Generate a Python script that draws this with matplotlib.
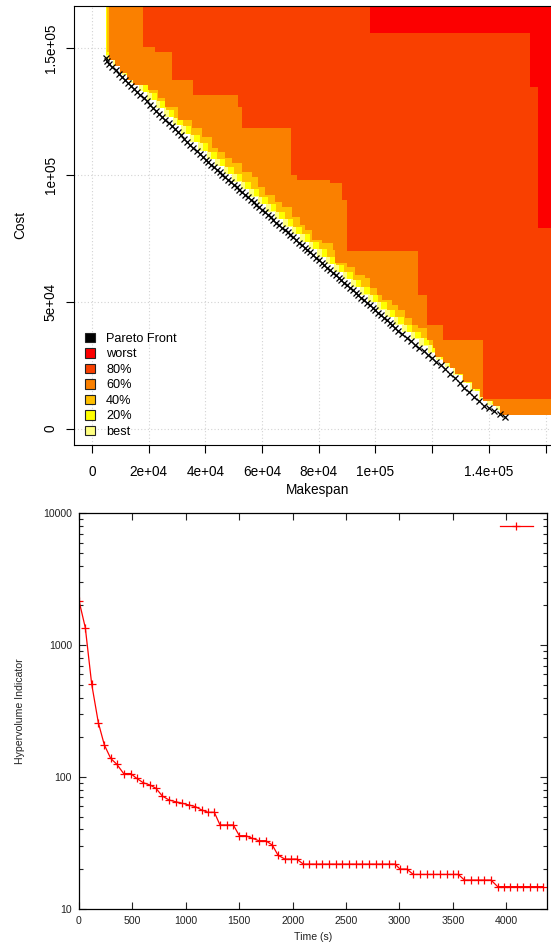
import matplotlib
matplotlib.use("Agg")
import matplotlib.pyplot as plt
from matplotlib.patches import Patch
from matplotlib.lines import Line2D
from matplotlib.ticker import FixedLocator, NullFormatter, LogLocator

plt.rcParams['font.family'] = ['Liberation Sans', 'DejaVu Sans']

# ---- top chart: Pareto front (makespan, cost) ----
front_makespan = [
    4800, 5300, 6100, 7200, 8300, 9400, 10500, 11600, 12700, 13800, 14900, 16000,
    17100, 18200, 19300, 20400, 21500, 22600, 23700, 24800, 25900, 27000, 28100,
    29200, 30300, 31400, 32500, 33600, 34700, 35800, 36900, 38000, 39100, 40200,
    41000, 42000, 43000, 44000, 45000, 46000, 47000, 48000, 49000, 50000, 51000,
    52000, 53000, 54000, 55000, 56000, 57000, 58000, 59000, 60000, 61000, 62000,
    63000, 64000, 65000, 66000, 67000, 68000, 69000, 70000, 71000, 72000, 73000,
    74000, 75000, 76000, 77000,
    78000, 79000, 80000, 81000, 82000, 83000, 84000, 85000, 86000, 87000, 88000,
    89000, 90000, 91000, 92000, 93000, 94000, 95000, 96000, 97000, 98000, 99000,
    100000, 101000, 102000, 103000, 104000, 105000, 106000, 107000, 108000,
    109500, 111000, 112500, 114000, 115500, 117000, 118500, 120000, 121500, 123000,
    124600, 126300, 128000, 129700, 131400, 133100, 134800, 136500,
    138200, 140100, 142000, 143900, 145700]
front_cost = [
    146000, 145000, 143700, 142500, 141300, 140000, 138800, 137600, 136400, 135200,
    133900, 132700, 131500, 130300, 129100, 127800, 126600, 125400, 124200, 123000,
    121800, 120500, 119300, 118100, 116900, 115700, 114400, 113200, 112000, 110800,
    109600, 108400, 107100, 105900,
    105000, 104100, 103100, 102100, 101100, 100100, 99100, 98100, 97100, 96100,
    95200, 94200, 93200, 92200, 91200, 90200, 89200, 88200, 87300, 86300, 85300,
    84300, 83300, 82300, 81300, 80300, 79300, 78400, 77400, 76400, 75400, 74400,
    73400, 72400, 71400, 70500, 69500,
    68500, 67500, 66500, 65500, 64500, 63500, 62500, 61500, 60500, 59500, 58600,
    57600, 56600, 55600, 54600, 53600, 52600, 51600, 50600, 49600, 48600, 47600,
    46700, 45700, 44700, 43700, 42700, 41700, 40700, 39700, 38700,
    37300, 35900, 34600, 33200, 31900, 30500, 29100, 27800, 26400, 25000,
    23500, 21700, 19900, 18000, 16200, 14400, 12600, 10800,
    9100, 8000, 6800, 5700, 4600]

# ---- attainment surfaces (corner points of each staircase) ----
best_x = [4900, 7500, 10500, 13500, 16500, 19500, 22500, 25500, 28500, 31500, 34500,
          37500, 40500, 43500, 46500, 49500, 52500, 55500, 58500, 61500, 64500, 67500,
          70500, 73500, 76500, 79500, 82500, 85500, 88500, 91500, 94500, 97500, 100500,
          103500, 106500, 109500, 112500, 115500, 118500, 121500, 124500, 127500,
          130500, 133500, 136500, 139500, 142500, 146000]
best_y = [145800, 142900, 139600, 136300, 133000, 129600, 126300, 123000, 119700,
          116400, 113000, 109700, 106400, 103400, 100400, 97400, 94500, 91500, 88500,
          85600, 82600, 79700, 76700, 73700, 70800, 67800, 64800, 61800, 58900, 55900,
          52900, 49900, 47000, 44000, 41000, 38100, 35400, 32700, 29900, 27200, 24400,
          21200, 18000, 14800, 11600, 9200, 7300, 5400]

q20_x = [5000, 9000, 12000, 15000, 18000, 21000, 24000, 27000, 30000, 33000, 36000,
         39000, 42000, 45000, 48000, 51000, 54000, 57000, 60000, 63000, 66000, 69000,
         72000, 75000, 78000, 81000, 84000, 87000, 90000, 93000, 96000, 99000, 102000,
         105000, 108000, 111000, 114000, 117000, 120000, 123000, 126000, 129000,
         132000, 135000, 138000, 141000, 144000, 147000]
q20_y = [147300, 142900, 139600, 136200, 132900, 129600, 126300, 122900, 119600,
         116300, 113000, 109600, 106500, 103500, 100500, 97600, 94600, 91600, 88700,
         85700, 82700, 79800, 76800, 73800, 70900, 67900, 64900, 61900, 59000, 56000,
         53000, 50000, 47100, 44100, 41100, 38300, 35600, 32900, 30200, 27400, 24400,
         21200, 18000, 14800, 11700, 9900, 8000, 5400]

q40_x = [5400, 8000, 11000, 14000, 17000, 20000, 23000, 26000, 29000, 32000, 35000,
         38000, 41000, 44000, 47000, 50000, 53000, 56000, 59000, 62000, 65000, 68000,
         71000, 74000, 77000, 80000, 83000, 86000, 89000, 92000, 95000, 98000, 101000,
         104000, 107000, 110000, 113000, 116000, 119000, 122000, 125000, 128000,
         131000, 134000, 137000, 140000, 143000, 147000]
q40_y = [148700, 145800, 142500, 139100, 135800, 132500, 129200, 125800, 122500,
         119200, 115900, 112600, 109200, 106300, 103300, 100300, 97400, 94400, 91500,
         88500, 85500, 82600, 79600, 76600, 73700, 70700, 67700, 64700, 61800, 58800,
         55800, 52800, 49900, 46900, 43900, 41000, 38300, 35600, 32900, 30200, 27200,
         24100, 20900, 17700, 14500, 12300, 10400, 5400]

q60_x = [6100, 8100, 9900, 12200, 14600, 19900, 23400, 25800, 30400, 35200, 38700,
         42200, 44600, 46900, 49300, 52800, 56300, 58700, 61000, 64600, 66900, 70400,
         73400, 75100, 77500, 81000, 85100, 85700, 89800, 92800, 96300, 98100, 100400,
         102200, 105700, 108000, 110400, 112800, 115100, 118100, 120400, 121000,
         123900, 126300, 128000, 131000, 133900, 136900, 138000, 141600, 143900]
q60_y = [145400, 143000, 140300, 137500, 135500, 133600, 130400, 127000, 121700,
         118500, 115100, 110600, 109200, 106600, 104700, 101300, 99400, 95400, 92200,
         89500, 87500, 83600, 80300, 78300, 74400, 73100, 70500, 65200, 63900, 60600,
         59300, 55400, 52700, 50800, 48800, 46800, 43500, 40900, 39600, 35000, 31700,
         28400, 25800, 23800, 21500, 18600, 15600, 12500, 11000, 8800, 5400]

q80_x = [18000, 22200, 28100, 35700, 51600, 52800, 70100, 72200, 84000, 88100, 90100,
         114900, 118100, 123900, 138000]
q80_y = [150500, 148700, 137500, 131600, 127000, 118700, 100000, 98100, 97000, 90200,
         70200, 52700, 40900, 35000, 11600]

worst_x = [98100, 154500, 157200]
worst_y = [156200, 134700, 79000]

surface_labels = ['best', '20%', '40%', '60%', '80%', 'worst']
surface_colors = ['#FFFF80', '#FFFF00', '#FFBF00', '#FA8000', '#F94000', '#FC0000']
surfaces = [(best_x, best_y), (q20_x, q20_y), (q40_x, q40_y),
            (q60_x, q60_y), (q80_x, q80_y), (worst_x, worst_y)]

# ---- bottom chart: hypervolume indicator over time ----
hv_time = [0, 59, 119, 181, 237, 297, 353, 418, 484, 540, 602, 665, 721, 780, 843,
           905, 967, 1030, 1089, 1149, 1208, 1267, 1320, 1383, 1445, 1501, 1561,
           1623, 1685, 1748, 1810, 1863, 1927, 1983, 2038,
           2100, 2157, 2219, 2279, 2341, 2404, 2466, 2528, 2591, 2653, 2716, 2778,
           2840, 2903, 2959, 3005, 3068,
           3130, 3193, 3255, 3318, 3380, 3443, 3505, 3552,
           3608, 3670, 3733, 3795, 3857,
           3920, 3979, 4035, 4098, 4160, 4223, 4285, 4347]
hv_value = [2173, 1355, 505, 258, 175, 138, 125, 106, 106, 97.5, 90.3, 86.8, 81.9,
            71.6, 66.8, 64.8, 63.1, 61.2, 59.5, 56.1, 53.9, 53.9, 43.2, 43.2, 43.2,
            35.8, 35.8, 34.2, 32.8, 32.8, 30.4, 25.5, 23.8, 23.8, 23.8,
            21.8, 21.8, 21.8, 21.8, 21.8, 21.8, 21.8, 21.8, 21.8, 21.8, 21.8, 21.8,
            21.8, 21.8, 21.8, 20.0, 20.0,
            18.2, 18.2, 18.2, 18.2, 18.2, 18.2, 18.2, 18.2,
            16.5, 16.5, 16.5, 16.5, 16.5,
            14.7, 14.7, 14.7, 14.7, 14.7, 14.7, 14.7, 14.7]


def staircase(xs, ys, far=1e7):
    # outline of the region dominated by the points (minimise both)
    px, py = [xs[0]], [far]
    for i in range(len(xs)):
        px.append(xs[i]); py.append(ys[i])
        if i + 1 < len(xs):
            px.append(xs[i + 1]); py.append(ys[i])
    px += [far, far]
    py += [ys[-1], far]
    return px, py


W, H = 551, 944
fig = plt.figure(figsize=(W / 100, H / 100), dpi=100)

# ---------------- top: attainment surfaces ----------------
ax1 = fig.add_axes([74 / W, 1 - 444.5 / H, (556 - 74) / W, 438.5 / H])
for k, ((sx, sy), col) in enumerate(zip(surfaces, surface_colors)):
    px, py = staircase(sx, sy)
    ax1.fill(px, py, color=col, lw=0, zorder=1 + k)

ax1.plot(front_makespan, front_cost, ls='none', marker='x', ms=5, mew=0.9,
         color='black', zorder=10)

ax1.set_xlim(-6350, 163700)
ax1.set_ylim(-6230, 166680)
ax1.set_xticks([0, 2e4, 4e4, 6e4, 8e4, 1e5, 1.2e5, 1.4e5, 1.6e5])
ax1.set_xticklabels(['0', '2e+04', '4e+04', '6e+04', '8e+04', '1e+05', '',
                     '1.4e+05', ''])
ax1.set_yticks([0, 5e4, 1e5, 1.5e5])
ax1.set_yticklabels(['0', '5e+04', '1e+05', '1.5e+05'], rotation=90, va='center')
ax1.tick_params(direction='out', length=5.8, width=0.8, labelsize=9.8, colors='black')
ax1.tick_params(axis='x', pad=9)
ax1.tick_params(axis='y', pad=6)
ax1.grid(True, color='#d3d3d3', linestyle=(0, (1, 2)), linewidth=0.8)
ax1.set_axisbelow(True)
for s in ax1.spines.values():
    s.set_linewidth(0.8)
    s.set_zorder(20)

fig.text(20 / W, 1 - 225 / H, 'Cost', rotation=90, ha='center', va='center', fontsize=9.8)
fig.text(318 / W, 1 - 490 / H, 'Makespan', ha='center', va='center', fontsize=9.8)

handles = [Patch(facecolor='black', edgecolor='#222222', lw=0.8)]
labels = ['Pareto Front']
for lab, col in zip(surface_labels[::-1], surface_colors[::-1]):
    handles.append(Patch(facecolor=col, edgecolor='#222222', lw=0.8))
    labels.append(lab)
ax1.legend(handles, labels, loc='lower left', bbox_to_anchor=(85 / W, 1 - 438 / H),
           bbox_transform=fig.transFigure, frameon=False, fontsize=9.2,
           handlelength=0.8, handleheight=0.8, handletextpad=0.85, labelspacing=0.25,
           borderpad=0, borderaxespad=0)

# ---------------- bottom: hypervolume ----------------
ax2 = fig.add_axes([79 / W, 1 - 908.7 / H, 467.7 / W, 395.4 / H])
ax2.plot(hv_time, hv_value, color='red', lw=0.9, marker='+', ms=6, mew=0.9)
ax2.set_yscale('log')
ax2.set_xlim(0, 4379)
ax2.set_ylim(10, 10000)
ax2.set_xticks([0, 500, 1000, 1500, 2000, 2500, 3000, 3500, 4000])
ax2.yaxis.set_major_locator(FixedLocator([10, 100, 1000, 10000]))
ax2.set_yticklabels(['10', '100', '1000', '10000'])
ax2.yaxis.set_minor_locator(LogLocator(base=10, subs=range(2, 10)))
ax2.yaxis.set_minor_formatter(NullFormatter())
ax2.tick_params(which='both', direction='in', top=True, right=True, width=0.8,
                colors='#222222', labelcolor='#222222', labelsize=7.6)
ax2.tick_params(which='major', length=5, pad=5)
ax2.tick_params(which='minor', length=2.8)
for s in ax2.spines.values():
    s.set_linewidth(0.9)

fig.text(20 / W, 1 - 711 / H, 'Hypervolume Indicator', rotation=90, ha='center',
         va='center', fontsize=7.6, color='#222222')
fig.text(312.8 / W, 1 - 936.5 / H, 'Time (s)', ha='center', va='center',
         fontsize=7.6, color='#222222')

key = Line2D([], [], color='red', lw=0.9, marker='+', ms=6, mew=0.9)
ax2.legend([key], [''], loc='upper right', frameon=False, handlelength=3.1,
           numpoints=1, handletextpad=0, fontsize=7.6,
           bbox_to_anchor=(1 - 14 / 467.7, 1 - 8 / 395.4), borderaxespad=0, borderpad=0)

fig.savefig('out.png', dpi=100)
